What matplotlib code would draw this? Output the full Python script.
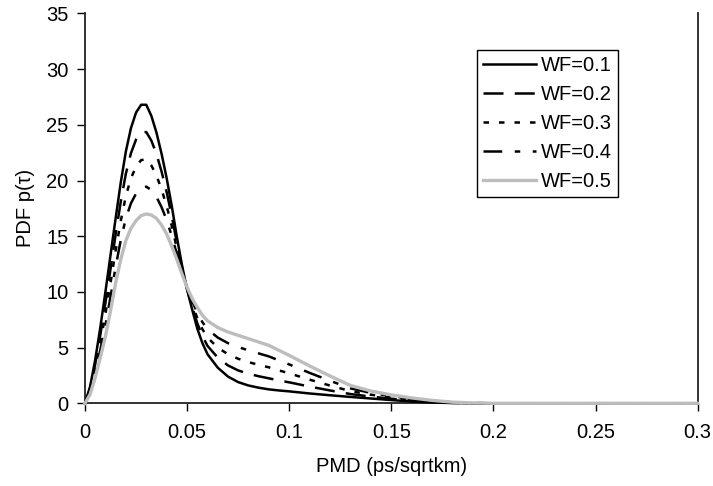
import matplotlib
matplotlib.use("Agg")
import matplotlib.pyplot as plt

plt.rcParams['font.family'] = ['Liberation Sans', 'DejaVu Sans']

# PMD values (ps/sqrtkm)
pmd = [0, 0.0025, 0.005, 0.0075, 0.01, 0.0125, 0.015, 0.0175, 0.02, 0.0225,
       0.025, 0.0275, 0.03, 0.0325, 0.035, 0.0375, 0.04, 0.0425, 0.045, 0.0475,
       0.05, 0.0525, 0.055, 0.0575, 0.06, 0.065, 0.07, 0.075, 0.08, 0.085,
       0.09, 0.095, 0.1, 0.11, 0.12, 0.13, 0.14, 0.15, 0.16, 0.17,
       0.18, 0.19, 0.2, 0.3]

wf01 = [0, 1.5, 3.9, 6.8, 10.0, 13.3, 16.6, 19.8, 22.6, 24.7,
        26.1, 26.8, 26.8, 25.8, 24.3, 22.4, 20.2, 17.7, 14.9, 12.4,
        10.2, 8.4, 6.7, 5.4, 4.4, 3.2, 2.4, 1.9, 1.6, 1.4,
        1.25, 1.15, 1.07, 0.88, 0.72, 0.57, 0.43, 0.29, 0.16, 0.07,
        0.02, 0, 0, 0]
wf02 = [0, 1.33, 3.5, 6.13, 9.0, 12.05, 15.15, 18.08, 20.6, 22.45,
        23.68, 24.31, 24.35, 23.58, 22.38, 20.8, 18.95, 16.8, 14.4, 12.2,
        10.25, 8.65, 7.18, 6.03, 5.15, 4.1, 3.4, 2.95, 2.65, 2.43,
        2.24, 2.05, 1.88, 1.5, 1.15, 0.83, 0.6, 0.41, 0.24, 0.12,
        0.04, 0.01, 0, 0]
wf03 = [0, 1.15, 3.1, 5.45, 8.0, 10.8, 13.7, 16.35, 18.6, 20.2,
        21.25, 21.83, 21.9, 21.35, 20.45, 19.2, 17.7, 15.9, 13.9, 12.0,
        10.3, 8.9, 7.65, 6.65, 5.9, 5.0, 4.4, 4.0, 3.7, 3.45,
        3.23, 2.95, 2.69, 2.12, 1.59, 1.09, 0.77, 0.52, 0.32, 0.17,
        0.06, 0.02, 0, 0]
wf04 = [0, 0.98, 2.7, 4.78, 7.0, 9.55, 12.25, 14.63, 16.6, 17.95,
        18.83, 19.34, 19.45, 19.13, 18.53, 17.6, 16.45, 15.0, 13.4, 11.8,
        10.35, 9.15, 8.13, 7.28, 6.65, 5.9, 5.4, 5.05, 4.75, 4.48,
        4.21, 3.85, 3.49, 2.73, 2.02, 1.34, 0.93, 0.64, 0.4, 0.21,
        0.08, 0.02, 0, 0]
wf05 = [0, 0.8, 2.3, 4.1, 6.0, 8.3, 10.8, 12.9, 14.6, 15.7,
        16.4, 16.85, 17.0, 16.9, 16.6, 16.0, 15.2, 14.1, 12.9, 11.6,
        10.4, 9.4, 8.6, 7.9, 7.4, 6.8, 6.4, 6.1, 5.8, 5.5,
        5.2, 4.75, 4.3, 3.35, 2.45, 1.6, 1.1, 0.75, 0.48, 0.26,
        0.1, 0.03, 0, 0]

labels = ["WF=0.1", "WF=0.2", "WF=0.3", "WF=0.4", "WF=0.5"]
xticks = [0, 0.05, 0.1, 0.15, 0.2, 0.25, 0.3]
xticklabels = ["0", "0.05", "0.1", "0.15", "0.2", "0.25", "0.3"]
yticks = [0, 5, 10, 15, 20, 25, 30, 35]

fig = plt.figure(figsize=(7.13, 4.86), dpi=100)
ax = fig.add_axes([0.1192, 0.1702, 0.8593, 0.8022])

fs = 14.5
lw = 1.8
ax.plot(pmd, wf01, color='black', lw=lw, ls='-', label=labels[0], clip_on=False, zorder=5)
ax.plot(pmd, wf02, color='black', lw=lw, ls=(0, (8, 4.5)), label=labels[1], clip_on=False, zorder=5)
ax.plot(pmd, wf03, color='black', lw=lw, ls=(0, (2.2, 4)), label=labels[2], clip_on=False, zorder=5)
ax.plot(pmd, wf04, color='black', lw=lw, ls=(0, (7.5, 5, 2.2, 5)), label=labels[3], clip_on=False, zorder=5)
ax.plot(pmd, wf05, color='#bdbdbd', lw=2.4, ls='-', label=labels[4], clip_on=False, zorder=6)

ax.set_xlim(0, 0.3)
ax.set_ylim(0, 35)
ax.set_xticks(xticks)
ax.set_xticklabels(xticklabels)
ax.set_yticks(yticks)
ax.tick_params(axis='both', direction='out', length=6, width=1, labelsize=fs, colors='black', pad=8)
ax.tick_params(axis='y', pad=6)

ax.spines['top'].set_visible(False)
for s in ['left', 'right', 'bottom']:
    ax.spines[s].set_linewidth(1.3)
    ax.spines[s].set_color('#222222')

ax.set_xlabel("PMD (ps/sqrtkm)", fontsize=fs, labelpad=11)
ax.set_ylabel("PDF p(τ)", fontsize=fs, labelpad=8)

leg = ax.legend(loc='upper left', bbox_to_anchor=(0.64, 0.906), fontsize=fs,
                frameon=True, fancybox=False, framealpha=1, edgecolor='black',
                handlelength=2.6, handletextpad=0.25, labelspacing=0.5,
                borderpad=0.3, borderaxespad=0)
leg.get_frame().set_linewidth(1.0)

fig.savefig("out.png", dpi=100)
